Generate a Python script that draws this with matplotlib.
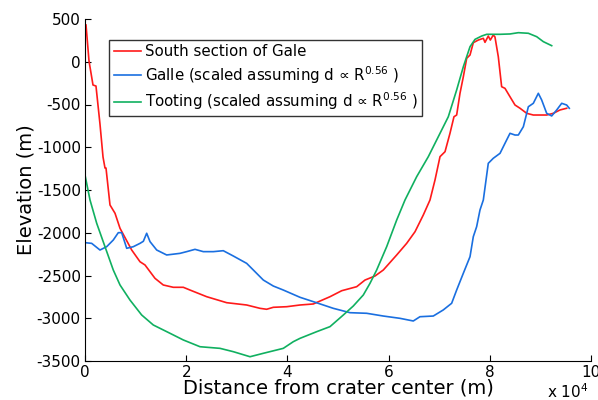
import matplotlib
matplotlib.use("Agg")
import matplotlib.pyplot as plt
from matplotlib.ticker import FuncFormatter, MultipleLocator

plt.rcParams['font.family'] = ['DejaVu Sans']
plt.rcParams['mathtext.fontset'] = 'dejavusans'

# South section of Gale (red)
red_x = [200, 790, 1580, 2170, 2960, 3560, 3950, 4150, 4940, 5930, 6920, 9230, 10870, 11860,
         13830, 15470, 17450, 19430, 20750, 24050, 28000, 31950, 34580, 35900, 37210, 39860,
         42490, 45120, 48420, 50730, 53690, 55340, 57310, 58950, 61600, 63570, 65220, 66860,
         68180, 69170, 70160, 71150, 72130, 72920, 73450, 74110, 74770, 75430, 76090, 76740,
         77730, 78720, 79050, 79700, 80100, 80690, 81020, 81680, 82340, 83000, 83990, 84980,
         85970, 87290, 88600, 91240, 92560, 93870, 95190]
red_y = [430, 9, -272, -284, -728, -1114, -1243, -1243, -1675, -1772, -1948, -2202, -2339, -2377,
         -2533, -2611, -2638, -2638, -2670, -2748, -2818, -2845, -2884, -2895, -2872, -2865,
         -2845, -2833, -2748, -2678, -2631, -2553, -2506, -2436, -2260, -2124, -1988, -1792,
         -1617, -1383, -1110, -1052, -837, -643, -623, -369, -175, 40, 79, 223,
         254, 274, 227, 301, 254, 313, 290, 59, -292, -311, -409, -506,
         -544, -603, -623, -623, -603, -564, -544]

# Galle (blue)
blue_x = [0, 1320, 2960, 4280, 5590, 6580, 7250, 8240, 9550, 10870, 11530, 12190, 12850, 14170,
          16140, 18770, 20090, 21740, 23380, 25360, 27330, 29310, 31950, 33270, 35240, 37210,
          39190, 42490, 45120, 49070, 52370, 55670, 58950, 62250, 64880, 66200, 68830, 70800,
          72460, 73450, 74760, 76090, 76740, 77400, 78060, 78720, 79700, 80690, 82020, 83000,
          83990, 84980, 85640, 86630, 87620, 88600, 89590, 90250, 91240, 92230, 93220, 94210,
          95190, 95710]
blue_y = [-2116, -2124, -2202, -2163, -2085, -1999, -1999, -2182, -2163, -2124, -2100, -2006, -2104, -2202,
          -2260, -2241, -2221, -2194, -2221, -2221, -2210, -2272, -2358, -2436, -2553, -2623,
          -2670, -2755, -2806, -2884, -2935, -2942, -2974, -3001, -3032, -2982, -2974, -2903,
          -2825, -2670, -2475, -2280, -2046, -1929, -1734, -1617, -1188, -1129, -1071, -954,
          -837, -857, -857, -760, -526, -486, -369, -447, -603, -634, -564, -486,
          -506, -544]

# Tooting (green)
green_x = [0, 990, 2310, 3950, 5590, 6920, 8890, 11200, 13500, 16800, 19430, 22730, 26680, 29310,
           32610, 35240, 39190, 41170, 42490, 45790, 48420, 51050, 53020, 55000, 56320, 57640,
           59620, 61600, 63240, 65550, 67850, 70160, 71800, 73450, 74770, 76090, 77080, 78400,
           79390, 82020, 84000, 85640, 87620, 89270, 90580, 92230]
green_y = [-1325, -1617, -1889, -2163, -2436, -2611, -2787, -2962, -3079, -3176, -3254, -3333, -3352, -3391,
           -3450, -3410, -3352, -3274, -3235, -3157, -3098, -2962, -2857, -2728, -2592, -2436,
           -2163, -1851, -1617, -1344, -1110, -837, -643, -330, -58, 176, 262, 301,
           321, 321, 325, 340, 333, 293, 235, 188]

labels = ['South section of Gale',
          'Galle (scaled assuming d \u221d R$^{0.56}$ )',
          'Tooting (scaled assuming d \u221d R$^{0.56}$ )']

fig = plt.figure(figsize=(5.98, 4.0), dpi=100)
ax = fig.add_axes([85/598, 1 - 361/400, (591 - 85)/598, (361 - 19)/400])

ax.plot(red_x, red_y, color='#ff1a1a', lw=1.2, label=labels[0])
ax.plot(blue_x, blue_y, color='#1a6fe0', lw=1.2, label=labels[1])
ax.plot(green_x, green_y, color='#10b060', lw=1.2, label=labels[2])

ax.set_xlim(0, 100000)
ax.set_ylim(-3500, 500)
ax.xaxis.set_major_locator(MultipleLocator(20000))
ax.yaxis.set_major_locator(MultipleLocator(500))
ax.xaxis.set_major_formatter(FuncFormatter(lambda v, p: '%g' % (v / 1e4)))
ax.yaxis.set_major_formatter(FuncFormatter(lambda v, p: '%d' % v))
ax.tick_params(direction='in', length=4, width=0.8, labelsize=11, top=False, right=False, pad=3)
for s in ['top', 'right']:
    ax.spines[s].set_visible(False)
for s in ['left', 'bottom']:
    ax.spines[s].set_linewidth(0.8)

ax.set_xlabel('Distance from crater center (m)', fontsize=14, labelpad=-1)
ax.set_ylabel('Elevation (m)', fontsize=14, labelpad=1)
fig.text(568/598, 1 - 392/400, r'x 10$^4$', fontsize=11, ha='center', va='center')

leg = ax.legend(loc='upper left', bbox_to_anchor=((109 - 85)/506, 1 - (40 - 19)/342),
                fontsize=10.8, frameon=True, fancybox=False, edgecolor='black',
                handlelength=1.8, handletextpad=0.3, borderpad=0.3, labelspacing=0.3,
                borderaxespad=0)
leg.get_frame().set_linewidth(1.0)

fig.savefig('out.png', dpi=100)
